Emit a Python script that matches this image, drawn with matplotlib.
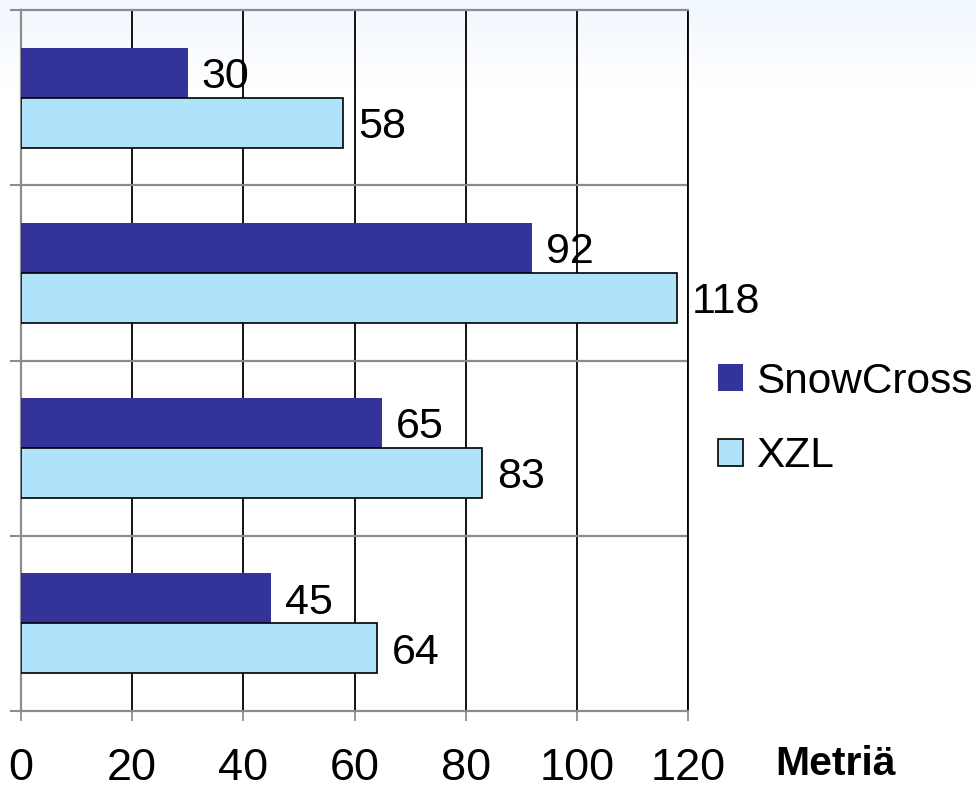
import matplotlib
matplotlib.use("Agg")
import matplotlib.pyplot as plt
import numpy as np

# data (top to bottom)
groups = ['A', 'B', 'C', 'D']
snowcross = [30, 92, 65, 45]
xzl = [58, 118, 83, 64]
series_names = ['SnowCross', 'XZL']
xticks = [0, 20, 40, 60, 80, 100, 120]

dark = '#333399'
light = '#AFE3F9'
grey = '#8C8C8C'

plt.rcParams['font.family'] = ['Liberation Sans', 'DejaVu Sans']

fig = plt.figure(figsize=(9.76, 7.88), dpi=100)

# light gradient background at the top of the figure
bg = fig.add_axes([0, 0, 1, 1], zorder=-10)
grad = np.ones((788, 1, 3))
top = np.array([0xF1, 0xF7, 0xFE]) / 255.0
fade = np.clip(np.arange(788) / 90.0, 0, 1)
for c in range(3):
    grad[:, 0, c] = top[c] + (1 - top[c]) * fade
bg.imshow(grad, aspect='auto', extent=[0, 1, 0, 1])
bg.axis('off')

ax = fig.add_axes([21 / 976, 1 - 711 / 788, (688 - 21) / 976, 701 / 788])
ax.set_facecolor('none')

n = len(groups)
ypos = np.arange(n)[::-1]
h = 0.2857

ax.barh(ypos + h / 2, snowcross, height=h, color=dark, zorder=3, label=series_names[0])
ax.barh(ypos - h / 2, xzl, height=h, color=light, edgecolor='black', linewidth=1.2,
        zorder=3, label=series_names[1])

for y, v in zip(ypos, snowcross):
    ax.annotate(str(v), (v, y + h / 2), xytext=(10, -3), textcoords='offset points',
                ha='left', va='center', fontsize=31, zorder=5)
for y, v in zip(ypos, xzl):
    ax.annotate(str(v), (v, y - h / 2), xytext=(11, -3), textcoords='offset points',
                ha='left', va='center', fontsize=31, zorder=5)

ax.set_xlim(0, 120)
ax.set_ylim(-0.5, n - 0.5)
ax.set_xticks(xticks)
ax.set_xticklabels([str(t) for t in xticks], fontsize=32.5)
ax.set_yticks(np.arange(-0.5, n, 1.0))
ax.set_yticklabels([])
ax.tick_params(axis='x', direction='out', length=7.5, width=1.3, color=grey, pad=19)
ax.tick_params(axis='y', direction='out', length=8, width=1.5, color=grey)

for t in xticks[1:]:
    ax.axvline(t, color='black', linewidth=1.3, zorder=1)
for s in np.arange(0.5, n - 1, 1.0):
    ax.axhline(s, color=grey, linewidth=1.6, zorder=1)

for side in ['left', 'top', 'bottom']:
    ax.spines[side].set_color(grey)
    ax.spines[side].set_linewidth(1.6)
ax.spines['right'].set_color('black')
ax.spines['right'].set_linewidth(1.3)

fig.legend(loc='center left', bbox_to_anchor=(718 / 976, 1 - 419 / 788), frameon=False,
           fontsize=30.5, handlelength=0.6, handleheight=0.6, handletextpad=0.3,
           labelspacing=0.82, borderpad=0, borderaxespad=0)

fig.text(835 / 976, 1 - 764 / 788, 'Metriä', fontsize=29.5, fontweight='bold',
         ha='center', va='center')

fig.savefig('out.png', dpi=100)
